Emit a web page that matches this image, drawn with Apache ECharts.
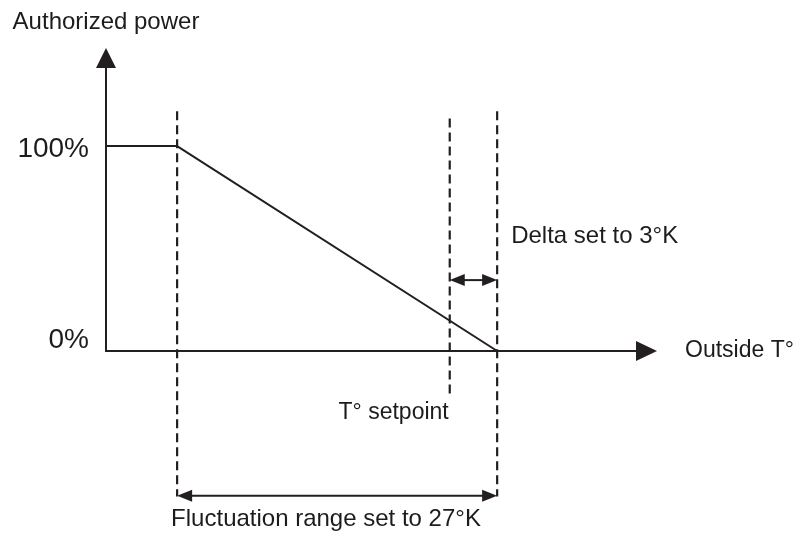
<!DOCTYPE html>
<html>
<head>
<meta charset="utf-8">
<script src="https://cdn.jsdelivr.net/npm/echarts@6/dist/echarts.min.js"></script>
<style>
  html, body { margin: 0; padding: 0; background: #ffffff; }
  #chart { width: 798px; height: 541px; }
</style>
</head>
<body>
<div id="chart"></div>
<script>
// Outside temperature (°K, schematic scale) against authorized power (%)
const tempExtent = [0, 45.6];
const powerExtent = [0, 143];          // headroom above 100 % for the arrow head
const powerTicks = [0, 100];

// Authorized power curve: flat at 100 %, then falling to 0 % across the fluctuation range
const curveTemp = [0, 6, 33];
const curvePower = [100, 100, 0];

// Dashed guides: fluctuation start, T° setpoint, fluctuation end
const guideTemp = [6, 29, 33];
const guideTop = [117, 113.5, 117];
const guideBottom = [-71, -21.5, -71];
const guideLabels = ['', 'T° setpoint', ''];

// Double-headed span arrows
const spanFrom = [29, 6];
const spanTo = [33, 33];
const spanLevel = [34.6, -70.7];
const spanLabels = ['Delta set to 3°K', 'Fluctuation range set to 27°K'];

const INK = '#231f20';
const TEXT = '#1c1c1c';
const FONT = '"Liberation Sans", Arial, Helvetica, sans-serif';

const chart = echarts.init(document.getElementById('chart'), null, { renderer: 'canvas' });

const curveData = curveTemp.map((t, i) => [t, curvePower[i]]);
const guideData = guideTemp.map((t, i) => [t, guideTop[i], guideBottom[i]]);
const spanData = spanFrom.map((t, i) => [t, spanTo[i], spanLevel[i]]);

function font(size) {
  return size + 'px ' + FONT;
}

chart.setOption({
  animation: false,
  backgroundColor: '#ffffff',
  grid: {
    left: 106, top: 58, right: 151.5, bottom: 190,
    containLabel: false,
    outerBoundsMode: 'none'
  },
  xAxis: {
    type: 'value',
    min: tempExtent[0],
    max: tempExtent[1],
    name: 'Outside T°',
    nameLocation: 'end',
    nameGap: 38.5,
    nameTextStyle: {
      fontFamily: FONT, fontSize: 23, color: TEXT,
      padding: [0, 0, 11, 0]
    },
    axisLine: {
      show: true,
      symbol: ['none', 'triangle'],
      symbolSize: [20, 21],
      lineStyle: { color: INK, width: 2 }
    },
    axisTick: { show: false },
    axisLabel: { show: false },
    splitLine: { show: false }
  },
  yAxis: {
    type: 'value',
    min: powerExtent[0],
    max: powerExtent[1],
    interval: powerTicks[1] - powerTicks[0],
    name: 'Authorized power',
    nameLocation: 'end',
    nameGap: 24,
    nameTextStyle: {
      fontFamily: FONT, fontSize: 24, color: TEXT,
      align: 'center'
    },
    axisLine: {
      show: true,
      symbol: ['none', 'triangle'],
      symbolSize: [20, 20],
      lineStyle: { color: INK, width: 2 }
    },
    axisTick: { show: false },
    splitLine: { show: false },
    axisLabel: {
      showMaxLabel: false,
      margin: 17,
      formatter: function (v) {
        return v === powerTicks[0] ? '{lo|' + v + '%}' : '{hi|' + v + '%}';
      },
      rich: {
        lo: { fontFamily: FONT, fontSize: 28, color: TEXT, padding: [0, 0, 21, 0] },
        hi: { fontFamily: FONT, fontSize: 28, color: TEXT, padding: [7, 0, 0, 0] }
      }
    }
  },
  series: [
    {
      name: 'Authorized power',
      type: 'line',
      data: curveData,
      symbol: 'none',
      clip: false,
      lineStyle: { color: INK, width: 2 },
      z: 5
    },
    {
      name: 'Guides',
      type: 'custom',
      coordinateSystem: 'cartesian2d',
      clip: false,
      data: guideData,
      encode: { x: 0, y: [1, 2] },
      renderItem: function (params, api) {
        const t = api.value(0);
        const top = api.coord([t, api.value(1)]);
        const bottom = api.coord([t, api.value(2)]);
        const children = [{
          type: 'line',
          shape: { x1: top[0], y1: top[1], x2: bottom[0], y2: bottom[1] },
          style: { stroke: INK, lineWidth: 2.2, lineDash: [9, 5] }
        }];
        const text = guideLabels[params.dataIndex];
        if (text) {
          children.push({
            type: 'text',
            style: {
              text: text, x: bottom[0] - 1, y: bottom[1] + 18,
              font: font(23), fill: TEXT,
              align: 'right', verticalAlign: 'middle'
            }
          });
        }
        return { type: 'group', children: children };
      },
      z: 3
    },
    {
      name: 'Spans',
      type: 'custom',
      coordinateSystem: 'cartesian2d',
      clip: false,
      data: spanData,
      encode: { x: [0, 1], y: 2 },
      renderItem: function (params, api) {
        const level = api.value(2);
        const a = api.coord([api.value(0), level]);
        const b = api.coord([api.value(1), level]);
        const headLen = 15, headHalf = 6;
        const children = [
          {
            type: 'line',
            shape: { x1: a[0] + headLen - 2, y1: a[1], x2: b[0] - headLen + 2, y2: b[1] },
            style: { stroke: INK, lineWidth: 2 }
          },
          {
            type: 'polygon',
            shape: { points: [[a[0], a[1]], [a[0] + headLen, a[1] - headHalf], [a[0] + headLen, a[1] + headHalf]] },
            style: { fill: INK }
          },
          {
            type: 'polygon',
            shape: { points: [[b[0], b[1]], [b[0] - headLen, b[1] - headHalf], [b[0] - headLen, b[1] + headHalf]] },
            style: { fill: INK }
          }
        ];
        const text = spanLabels[params.dataIndex];
        const above = params.dataIndex === 0;
        children.push({
          type: 'text',
          style: {
            text: text,
            x: above ? b[0] + 14 : a[0] - 6,
            y: above ? b[1] - 44 : a[1] + 24,
            font: font(24), fill: TEXT,
            align: 'left', verticalAlign: 'middle'
          }
        });
        return { type: 'group', children: children };
      },
      z: 4
    }
  ]
});
</script>
</body>
</html>
